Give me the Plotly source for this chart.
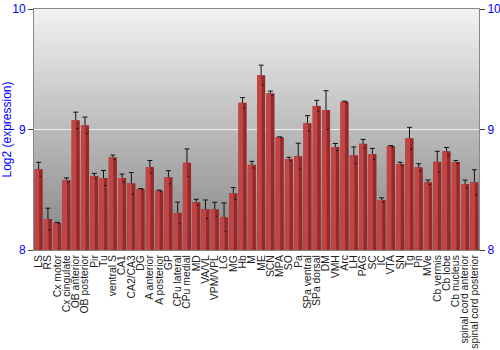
import plotly.graph_objects as go

categories = ["LS", "RS", "Cx motor", "Cx cingulate", "OB anterior", "OB posterior", "Pir", "Tu",
              "ventral S", "CA1", "CA2/CA3", "DG", "A anterior", "A posterior", "GP", "CPu lateral",
              "CPu medial", "MD", "VA/VL", "VPM/VPL", "LG", "MG", "Hb", "M", "ME", "SCN", "MPA", "SO",
              "Pa", "SPa ventral", "SPa dorsal", "DM", "VMH", "Arc", "LH", "PAG", "SC", "IC", "VTA",
              "SN", "Tg", "Pn", "MVe", "Cb vermis", "Cb lobe", "Cb nucleus", "spinal cord anterior",
              "spinal cord posterior"]
values = [8.67, 8.257, 8.224, 8.58, 9.076, 9.035, 8.614, 8.598,
          8.769, 8.598, 8.553, 8.506, 8.689, 8.492, 8.603, 8.307,
          8.724, 8.396, 8.338, 8.338, 8.271, 8.47, 9.222, 8.708, 9.45, 9.30, 8.935, 8.755,
          8.778, 9.051, 9.195, 9.162, 8.855, 9.231, 8.786, 8.882, 8.797, 8.415, 8.861,
          8.714, 8.927, 8.686, 8.562, 8.733, 8.819, 8.73, 8.548, 8.562]
errors = [0.058, 0.09, 0.005, 0.018, 0.068, 0.068, 0.022, 0.062,
          0.019, 0.032, 0.09, 0.004, 0.054, 0.005, 0.055, 0.09,
          0.115, 0.025, 0.077, 0.058, 0.12, 0.048, 0.043, 0.028, 0.084, 0.019, 0.004, 0.014,
          0.108, 0.064, 0.047, 0.16, 0.029, 0.004, 0.069, 0.036, 0.046, 0.018, 0.005,
          0.014, 0.091, 0.03, 0.019, 0.086, 0.032, 0.012, 0.032, 0.104]
y_range = [8, 10]
y_ticks = [8, 9, 10]

fig = go.Figure()

# gradient background bands (overlapping to avoid seams)
n = 80
top = (0xf2, 0xf2, 0xf2)
bot = (0x84, 0x84, 0x84)
for i in range(n):
    t = (i + 0.5) / n
    c = tuple(int(round(bot[k] + (top[k] - bot[k]) * t)) for k in range(3))
    fig.add_shape(type="rect", xref="paper", yref="paper", x0=0, x1=1,
                  y0=i / n, y1=min(1.0, (i + 1) / n + 0.01), fillcolor="rgb(%d,%d,%d)" % c,
                  line=dict(width=0), layer="below")

fig.add_trace(go.Bar(x=categories, y=values, marker=dict(color="#962a2a", line=dict(width=0)),
                     width=0.88,
                     error_y=dict(type="data", array=errors, color="#111", thickness=1, width=2.5),
                     hoverinfo="skip", showlegend=False))
fig.add_trace(go.Bar(x=categories, y=values, marker=dict(color="#c24444", line=dict(width=0)),
                     width=0.5, offset=-0.44, hoverinfo="skip", showlegend=False))
# invisible trace for right axis
fig.add_trace(go.Scatter(x=[categories[0]], y=[8], yaxis="y2", mode="markers",
                         marker=dict(opacity=0), showlegend=False, hoverinfo="skip"))

fig.update_layout(
    width=500, height=350,
    margin=dict(l=34, r=21, t=9, b=100),
    paper_bgcolor="white", plot_bgcolor="rgba(0,0,0,0)",
    barmode="overlay",
    font=dict(family="Liberation Sans, Arial, sans-serif"),
    xaxis=dict(tickangle=-90, tickfont=dict(size=10.4, color="#222"), showgrid=False,
               tickmode="array", tickvals=categories, ticktext=categories,
               showline=True, mirror=True, linecolor="#888", linewidth=1, ticks="",
               automargin=False, range=[-0.5, len(categories) - 0.5]),
    yaxis=dict(range=y_range, tickvals=y_ticks, tickfont=dict(size=12, color="#0000ff"),
               ticks="outside", ticklen=5, tickcolor="#444", showline=True, linecolor="#888",
               showgrid=True, gridcolor="#eeeeee", gridwidth=1, zeroline=False, automargin=False,
               title=dict(text="Log2 (expression)", font=dict(size=12, color="#0000ff"), standoff=4)),
    yaxis2=dict(range=y_range, tickvals=y_ticks, tickfont=dict(size=12, color="#0000ff"),
                overlaying="y", side="right", ticks="outside", ticklen=5, tickcolor="#444",
                showline=True, linecolor="#888", showgrid=False, zeroline=False, automargin=False),
)

fig.write_html("out.html")
